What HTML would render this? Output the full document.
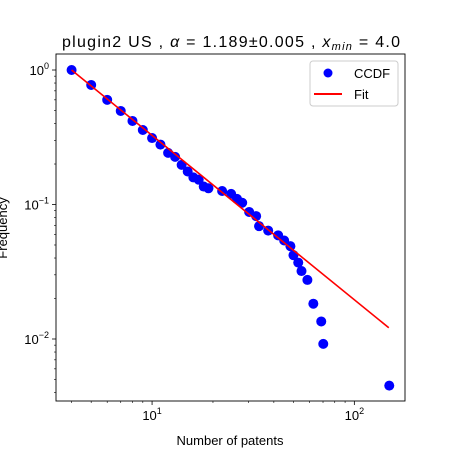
<!DOCTYPE html>
<html><head><meta charset="utf-8"><style>
html,body{margin:0;padding:0;background:#fff}
svg{display:block;font-family:"Liberation Sans","DejaVu Sans",sans-serif}
</style></head><body>
<svg id="chart" width="450" height="450" viewBox="0 0 450 450" xmlns="http://www.w3.org/2000/svg">
<rect width="450" height="450" fill="#fff"/>
<text x="62" y="47" font-size="16" textLength="338" lengthAdjust="spacing">plugin2 US , <tspan font-style="italic">α</tspan> = 1.189±0.005 , <tspan font-style="italic">x</tspan><tspan font-size="11" dy="3" font-style="italic">min</tspan><tspan dy="-3"> = 4.0</tspan></text>
<g id="plot"></g>
<text x="230" y="445" font-size="13" text-anchor="middle">Number of patents</text>
<text transform="translate(7,228) rotate(-90)" font-size="13" text-anchor="middle">Frequency</text>
<g>
<rect x="310" y="61" width="88" height="45" rx="3" fill="#fff" stroke="#ccc"/>
<circle cx="328" cy="73" r="4.5" fill="#0000ff"/>
<text x="354" y="78" font-size="13">CCDF</text>
<line x1="314" y1="94" x2="342" y2="94" stroke="#ff0000" stroke-width="2"/>
<text x="354" y="99" font-size="13">Fit</text>
</g>
</svg>
<script>
const xs = [4,5,6,7,8,9,10,11,12,13,14,15,16,17,18,19,22.2,24.6,26.3,27.9,30.2,32.7,33.8,37.5,42,45,48.3,50,52.8,54.8,58.6,62.7,68.6,70.2,148.8];
const ys = [1.0,0.774,0.6,0.496,0.418,0.358,0.312,0.279,0.242,0.226,0.197,0.176,0.159,0.153,0.136,0.132,0.126,0.12,0.11,0.103,0.088,0.082,0.069,0.064,0.059,0.054,0.049,0.042,0.037,0.032,0.0275,0.0183,0.0135,0.0092,0.0045];
const fitX = [4,148];
const fitSlope = -1.222;
const fitY0 = 1.0;
const xTicks = [10,100];
const xTickLabels = ["1","2"];
const yTicks = [0.01,0.1,1];
const yTickLabels = ["−2","−1","0"];

const L=56,R=405,T=54,B=401;
const xmin=Math.log10(3.35), xmax=Math.log10(178);
const ymin=-2.461, ymax=0.119;
const X=v=>L+(Math.log10(v)-xmin)/(xmax-xmin)*(R-L);
const Y=v=>B-(Math.log10(v)-ymin)/(ymax-ymin)*(B-T);
const NS="http://www.w3.org/2000/svg";
const g=document.getElementById('plot');
function mk(t,a){const e=document.createElementNS(NS,t);for(const k in a)e.setAttribute(k,a[k]);g.appendChild(e);return e;}

for(let d=0;d<=2;d++)for(let m=2;m<=9;m++){const v=m*Math.pow(10,d);const px=X(v);if(px>L&&px<R){
const t=mk('line',{x1:px,x2:px,y1:B,y2:B+2,stroke:'#000','stroke-width':0.6});

}}
for(let d=-3;d<=0;d++)for(let m=2;m<=9;m++){const v=m*Math.pow(10,d);const py=Y(v);if(py>T&&py<B){
const t=mk('line',{x1:L-2,x2:L,y1:py,y2:py,stroke:'#000','stroke-width':0.6});

}}
xTicks.forEach((v,i)=>{const px=X(v);
const t=mk('line',{x1:px,x2:px,y1:B,y2:B+4,stroke:'#000','stroke-width':0.8});


const tx=mk('text',{x:px,y:B+19,'font-size':13,'text-anchor':'middle'});
tx.innerHTML='10<tspan font-size="9" dy="-6">'+xTickLabels[i]+'</tspan>';

});
yTicks.forEach((v,i)=>{const py=Y(v);
const t=mk('line',{x1:L-4,x2:L,y1:py,y2:py,stroke:'#000','stroke-width':0.8});


const tx=mk('text',{x:L-7,y:py+5,'font-size':13,'text-anchor':'end'});
tx.innerHTML='10<tspan font-size="9" dy="-6">'+yTickLabels[i]+'</tspan>';

});

xs.forEach((v,i)=>{const c=mk('circle',{cx:X(v),cy:Y(ys[i]),r:5,fill:'#0000ff'});

});
const fy=x=>fitY0*Math.pow(x/fitX[0],fitSlope);
const fl=mk('line',{x1:X(fitX[0]),y1:Y(fy(fitX[0])),x2:X(fitX[1]),y2:Y(fy(fitX[1])),stroke:'#ff0000','stroke-width':1.6});


const fr=mk('rect',{x:L,y:T,width:R-L,height:B-T,fill:'none',stroke:'#000','stroke-width':0.9});


</script>
</body></html>
